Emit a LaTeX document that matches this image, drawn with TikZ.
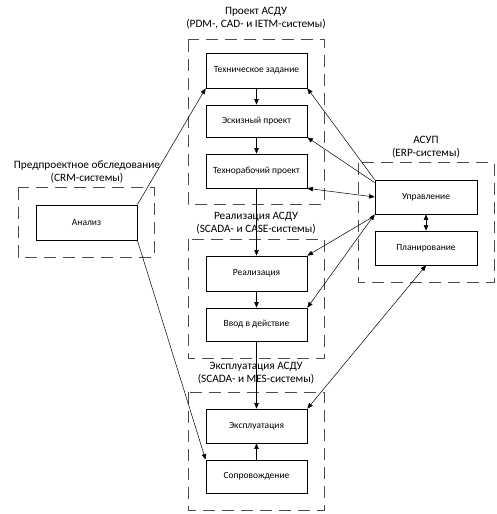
\documentclass[tikz,border=0pt]{standalone}
\usepackage{fontspec}
\setmainfont{Carlito}
\usetikzlibrary{arrows.meta}
\begin{document}
\begin{tikzpicture}[x=1bp,y=-1bp,
  stagebox/.style={draw=black,line width=0.8bp,minimum width=101bp,inner sep=0pt,font=\fontsize{9.5}{11}\selectfont,anchor=center},
  groupbox/.style={draw=black!70,line width=1bp,dash pattern=on 12bp off 7bp},
  grouptitle/.style={font=\fontsize{11.3}{13}\selectfont,align=center,inner sep=0pt},
  conn/.style={line width=0.5bp,-{Triangle[length=5.5bp,width=4.5bp]}},
  dconn/.style={line width=0.5bp,{Triangle[length=5.5bp,width=4.5bp]}-{Triangle[length=5.5bp,width=4.5bp]}}
]
\useasboundingbox (0,0) rectangle (497,514);
% group frames
\draw[groupbox] (188,40) rectangle (324,204);
\draw[groupbox] (188,239) rectangle (324,358);
\draw[groupbox] (188,392) rectangle (324,510);
\draw[groupbox] (18,188) rectangle (154,257);
\draw[groupbox] (358,163) rectangle (494,282);
% group titles
\node[grouptitle] (tproj) at (256,18.5) {Проект АСДУ\\(PDM-, CAD- и IETM-системы)};
\node[grouptitle] (treal) at (256,223) {Реализация АСДУ\\(SCADA- и CASE-системы)};
\node[grouptitle] (texpl) at (256,373.5) {Эксплуатация АСДУ\\(SCADA- и MES-системы)};
\node[grouptitle] (tpre) at (87,171.5) {Предпроектное обследование\\(CRM-системы)};
\node[grouptitle] (tasup) at (426,147) {АСУП\\(ERP-системы)};
% stage boxes
\node[stagebox,minimum height=35bp] (tz) at (256.5,70.5) {Техническое задание};
\node[stagebox,minimum height=32bp] (esk) at (256.5,121) {Эскизный проект};
\node[stagebox,minimum height=34bp] (trp) at (256.5,171) {Технорабочий проект};
\node[stagebox,minimum height=35bp] (real) at (256.5,273.5) {Реализация};
\node[stagebox,minimum height=33bp] (vvod) at (256.5,324.5) {Ввод в действие};
\node[stagebox,minimum height=34bp] (expl) at (256.5,426) {Эксплуатация};
\node[stagebox,minimum height=33bp] (sopr) at (256.5,476.5) {Сопровождение};
\node[stagebox,minimum height=35bp] (anal) at (86.5,222.5) {Анализ};
\node[stagebox,minimum width=102bp,minimum height=34bp] (upr) at (426,197) {Управление};
\node[stagebox,minimum width=102bp,minimum height=34bp] (plan) at (426,248) {Планирование};
% vertical flow
\draw[conn] (tz) -- (esk);
\draw[conn] (esk) -- (trp);
\draw[conn] (trp) -- (real);
\draw[conn] (real) -- (vvod);
\draw[conn] (vvod) -- (expl);
\draw[conn] (sopr) -- (expl);
\draw[dconn] (upr) -- (plan);
% analysis
\draw[conn] (anal.north east) -- (tz.south west);
\draw[conn] (anal.south east) -- (sopr.north west);
% management links
\draw[conn] (upr.north west) -- (tz.south east);
\draw[conn] ([yshift=-3bp]upr.north west) -- (esk.south east);
\draw[dconn] (trp.south east) -- (upr.west);
\draw[conn] ([yshift=-1.5bp]upr.south west) -- (real.north east);
\draw[dconn] (vvod.north east) -- (upr.south west);
\draw[dconn] (expl.north east) -- (plan.south);
\end{tikzpicture}
\end{document}
